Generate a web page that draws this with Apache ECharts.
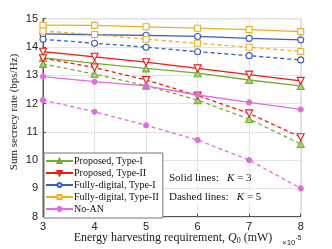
<!DOCTYPE html>
<html><head><meta charset="utf-8">
<script src="https://cdn.jsdelivr.net/npm/echarts@6/dist/echarts.min.js"></script>
<style>html,body{margin:0;padding:0;background:#fff}#c{width:332px;height:249px}</style>
</head><body><div id="c"></div>
<script>
var xValues = [3, 4, 5, 6, 7, 8];
var yTicks = [8, 9, 10, 11, 12, 13, 14, 15];
var propI_K3 = [13.61, 13.42, 13.24, 13.07, 12.83, 12.62];
var propII_K3 = [13.83, 13.65, 13.46, 13.24, 13.02, 12.80];
var fdI_K3 = [14.46, 14.43, 14.41, 14.37, 14.30, 14.25];
var fdII_K3 = [14.77, 14.76, 14.71, 14.66, 14.61, 14.54];
var noAN_K3 = [12.95, 12.77, 12.62, 12.30, 12.04, 11.79];
var propI_K5 = [13.40, 13.04, 12.63, 12.12, 11.45, 10.57];
var propII_K5 = [13.60, 13.27, 12.83, 12.28, 11.65, 10.81];
var fdI_K5 = [14.27, 14.13, 13.99, 13.83, 13.69, 13.54];
var fdII_K5 = [14.56, 14.44, 14.27, 14.13, 13.99, 13.84];
var noAN_K5 = [12.12, 11.71, 11.23, 10.71, 10.00, 9.00];
var names = ['Proposed, Type-I', 'Proposed, Type-II', 'Fully-digital, Type-I', 'Fully-digital, Type-II', 'No-AN'];

var colors = ['#77AC30', '#F51515', '#3C5CBE', '#EDB120', '#DE6FDE'];
var symbols = ['triangle', 'triangle', 'circle', 'rect', 'circle'];
var symRot = [0, 180, 0, 0, 0];
var symSize = [7, 7, 6, 6, 5];
var fills = ['#A8CF7A', '#FFFFFF', '#FFFFFF', '#FFFFFF', '#DE6FDE'];
var k3 = [propI_K3, propII_K3, fdI_K3, fdII_K3, noAN_K3];
var k5 = [propI_K5, propII_K5, fdI_K5, fdII_K5, noAN_K5];

function pairs(arr){ return xValues.map(function(x,i){ return [x, arr[i]]; }); }
var series = [];
for (var i = 0; i < 5; i++) {
  [[k3[i], 'solid', names[i]], [k5[i], [4, 3], names[i] + ' (K=5)']].forEach(function(d){
    series.push({
      type: 'line', name: d[2], data: pairs(d[0]),
      symbol: symbols[i], symbolSize: symSize[i], symbolRotate: symRot[i], showSymbol: true,
      lineStyle: { color: colors[i], width: 1.3, type: d[1] },
      itemStyle: { color: fills[i], borderColor: colors[i], borderWidth: 1.1 },
      emphasis: { disabled: true }, animation: false, z: 3
    });
  });
}

var serif = '"Liberation Serif"';
var chart = echarts.init(document.getElementById('c'));
chart.setOption({
  animation: false,
  grid: { left: 43, right: 31.3, top: 18.6, bottom: 32.3, show: true, borderColor: '#555', borderWidth: 1, backgroundColor: '#fff' },
  xAxis: {
    type: 'value', min: 3, max: 8, interval: 1,
    axisLine: { lineStyle: { color: '#555' } },
    axisTick: { show: true, inside: true, length: 3, lineStyle: { color: '#555' } },
    axisLabel: { color: '#222', fontSize: 11, fontFamily: 'Liberation Sans', margin: 5 },
    splitLine: { lineStyle: { color: '#e3e3e3', width: 1 } }
  },
  yAxis: {
    type: 'value', min: yTicks[0], max: yTicks[yTicks.length-1], interval: 1,
    axisLine: { show: true, lineStyle: { color: '#555' } },
    axisTick: { show: true, inside: true, length: 3, lineStyle: { color: '#555' } },
    axisLabel: { color: '#222', fontSize: 11, fontFamily: 'Liberation Sans', margin: 5 },
    splitLine: { lineStyle: { color: '#e3e3e3', width: 1 } }
  },
  legend: {
    data: names, orient: 'vertical', left: 44, top: 153, width: 118,
    padding: [3, 4, 4, 1], itemGap: 2, itemWidth: 27, itemHeight: 5,
    backgroundColor: '#fff', borderColor: '#777', borderWidth: 1,
    textStyle: { fontFamily: 'Liberation Serif', fontSize: 10, lineHeight: 9, color: '#111', padding: [0,0,0,-4] },
    selectedMode: false
  },
  graphic: [
    { type: 'text', x: 14, y: 112, rotation: Math.PI/2,
      style: { text: 'Sum secrecy rate (bps/Hz)', font: '11px ' + serif, fill: '#222', textAlign: 'center', textVerticalAlign: 'middle' } },
    { type: 'text', x: 173, y: 238, style: {
        text: '{n|Energy harvesting requirement, }{i|Q}{s|0}{n| (mW)}', textAlign: 'center', textVerticalAlign: 'middle',
        rich: { n: { font: '12px ' + serif, fill: '#222' }, i: { font: 'italic 12px ' + serif, fill: '#222' }, s: { font: '8px ' + serif, fill: '#222', padding: [5,0,0,0] } } } },
    { type: 'text', x: 282, y: 241, style: {
        text: '{n|×10}{s|-5}', textVerticalAlign: 'middle',
        rich: { n: { font: '8px "Liberation Sans"', fill: '#222', padding: [3,0,0,0] }, s: { font: '6.5px "Liberation Sans"', fill: '#222', padding: [0,0,5,0] } } } },
    { type: 'text', x: 168, y: 178.5, z: 10, style: {
        text: '{n|Solid lines:   }{i|K}{n| = 3}', textVerticalAlign: 'middle', backgroundColor: '#fff', padding: [1,1],
        rich: { n: { font: '11px ' + serif, fill: '#111' }, i: { font: 'italic 11px ' + serif, fill: '#111' } } } },
    { type: 'text', x: 168, y: 197, z: 10, style: {
        text: '{n|Dashed lines:   }{i|K}{n| = 5}', textVerticalAlign: 'middle', backgroundColor: '#fff', padding: [1,1],
        rich: { n: { font: '11px ' + serif, fill: '#111' }, i: { font: 'italic 11px ' + serif, fill: '#111' } } } }
  ],
  series: series
});
</script></body></html>
